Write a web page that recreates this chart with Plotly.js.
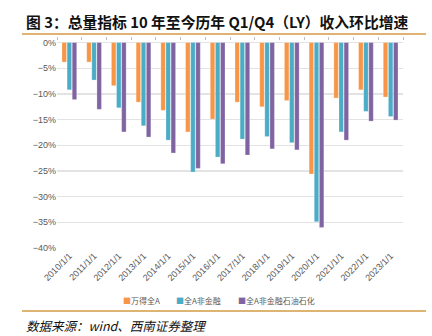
<!DOCTYPE html>
<html>
<head>
<meta charset="utf-8">
<script src="https://cdn.plot.ly/plotly-3.0.1.min.js"></script>
<style>html,body{margin:0;padding:0;background:#fff;}#chart{width:432px;height:336px;}</style>
</head>
<body>
<div id="chart"></div>
<script>
const categories = ["2010/1/1","2011/1/1","2012/1/1","2013/1/1","2014/1/1","2015/1/1","2016/1/1","2017/1/1","2018/1/1","2019/1/1","2020/1/1","2021/1/1","2022/1/1","2023/1/1"];
const seriesNames = ["万得全A","全A非金融","全A非金融石油石化"];
const windA = [-3.8,-3.8,-8.4,-11.6,-13.2,-17.4,-14.9,-11.6,-12.5,-11.3,-25.6,-10.8,-9.2,-10.6];
const nonFin = [-9.2,-7.3,-12.7,-16.2,-19.0,-25.2,-22.3,-18.8,-18.3,-19.5,-34.9,-17.4,-13.4,-14.4];
const nonFinExPetro = [-11.1,-13.0,-17.4,-18.4,-21.5,-24.5,-23.6,-21.9,-20.7,-20.9,-36.0,-19.0,-15.3,-15.1];
const yTickVals = [0,-5,-10,-15,-20,-25,-30,-35,-40];
const yTickText = ["0%","−5%","−10%","−15%","−20%","−25%","−30%","−35%","−40%"];

const colors = ["#F79646","#4BACC6","#8064A2"];
const values = [windA, nonFin, nonFinExPetro];
const traces = values.map((v,i)=>({
  type:"bar", name:seriesNames[i], x:categories, y:v,
  marker:{color:colors[i], line:{color:"rgba(255,255,255,0.5)", width:0.5}},
  hoverinfo:"skip", showlegend:false
}));

const L=57, R=403, T=41, B=248;
const px = x => (x-L)/(R-L);
const py = y => (B-y)/(B-T);
const lineColor = "#D39B45";

// legend drawn as text items built from the series names and colours
const legendX = [121, 174, 236];
const legendAnn = seriesNames.map((n,i)=>({
  xref:"paper", yref:"paper", x:px(legendX[i]), y:py(300.5), xanchor:"left", yanchor:"middle", showarrow:false,
  text:'<span style="color:'+colors[i]+'">■</span>'+n,
  font:{family:"Noto Sans CJK SC", size:8, color:"#595959"}
}));

const layout = {
  width:432, height:336,
  margin:{l:L, r:432-R, t:T, b:336-B, pad:0},
  paper_bgcolor:"#fff", plot_bgcolor:"#fff",
  barmode:"group", bargap:0.38, bargroupgap:0.12,
  showlegend:false,
  font:{family:"Liberation Sans", size:9, color:"#595959"},
  xaxis:{type:"category", tickangle:-45, showgrid:false, zeroline:false, showline:false,
    ticks:"", tickfont:{family:"Liberation Sans", size:9, color:"#595959"}, automargin:false},
  xaxis2:{type:"category", overlaying:"x", matches:"x", side:"top", anchor:"y", showticklabels:false,
    ticks:"outside", ticklen:3, tickcolor:"#BFBFBF", tickson:"boundaries", showgrid:false, zeroline:false, showline:false},
  yaxis:{range:[-40,0.3], tickvals:yTickVals, ticktext:yTickText, showgrid:true, gridcolor:"#E3E3E3", gridwidth:1.2,
    zeroline:false, showline:false, ticks:"", ticklen:0, tickfont:{family:"Liberation Sans", size:9, color:"#595959"}, automargin:false},
  shapes:[
    {type:"line", xref:"paper", yref:"paper", x0:px(22), x1:px(426), y0:py(34), y1:py(34), line:{color:lineColor, width:1.5}},
    {type:"line", xref:"paper", yref:"paper", x0:px(22), x1:px(426), y0:py(311), y1:py(311), line:{color:lineColor, width:1.5}}
  ],
  annotations:[
    {xref:"paper", yref:"paper", x:px(24), y:py(21), xanchor:"left", yanchor:"middle", showarrow:false,
      text:"<b>图 3：总量指标 10 年至今历年 Q1/Q4（LY）收入环比增速</b>", font:{family:"Noto Sans CJK SC", size:14.8, color:"#111"}},
    {xref:"paper", yref:"paper", x:px(24), y:py(325), xanchor:"left", yanchor:"middle", showarrow:false,
      text:"<i>数据来源：wind、西南证券整理</i>", font:{family:"Noto Sans CJK SC", size:12.5, color:"#111"}}
  ].concat(legendAnn)
};
traces.push({type:"bar", x:categories, y:categories.map(()=>null), xaxis:"x2", yaxis:"y", showlegend:false, hoverinfo:"skip"});
Plotly.newPlot("chart", traces, layout, {displayModeBar:false, staticPlot:true});
</script>
</body>
</html>
